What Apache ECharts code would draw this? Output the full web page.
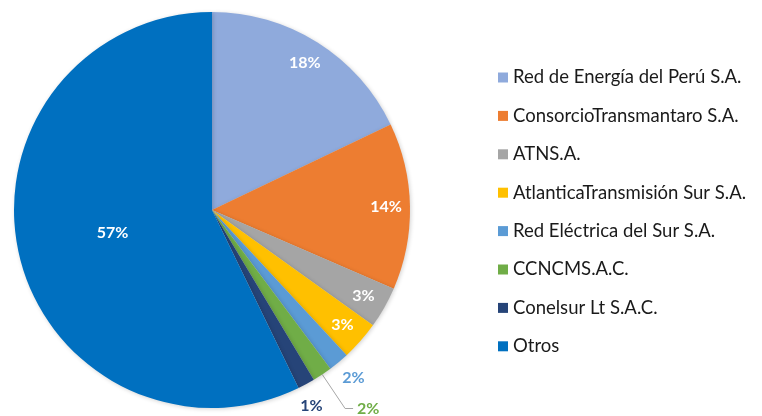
<!DOCTYPE html>
<html>
<head>
<meta charset="utf-8">
<script src="https://cdn.jsdelivr.net/npm/echarts@6/dist/echarts.min.js"></script>
<style>html,body{margin:0;padding:0;background:#fff}#c{width:762px;height:416px}</style>
</head>
<body>
<div id="c"></div>
<script>
const categories = ['Red de Energía del Perú S.A.', 'ConsorcioTransmantaro S.A.', 'ATNS.A.', 'AtlanticaTransmisión Sur S.A.', 'Red Eléctrica del Sur S.A.', 'CCNCMS.A.C.', 'Conelsur Lt S.A.C.', 'Otros'];
const shares = [17.9, 13.6, 3.4, 3.2, 1.7, 1.6, 1.4, 57.2];
const colors = ['#8faadc', '#ed7d31', '#a5a5a5', '#ffc000', '#5b9bd5', '#70ad47', '#264478', '#0070c0'];

// label placement style per slice: 'ring' = inner ring label, 'mid' = half radius, 'out' = outside
const labelKind = ['ring', 'ring', 'ring', 'ring', 'out', 'outLine', 'out', 'mid'];
const outDist = [0, 0, 0, 0, -10, 4, -18, 0];
const outLen = [0, 0, 0, 0, 21, 41, 25, 0];

const fontFam = 'Lato';
const fmt = p => Math.round(p.percent) + '%';

const mainData = categories.map((n, i) => {
  const k = labelKind[i];
  const d = { name: n, value: shares[i], itemStyle: { color: colors[i] } };
  if (k === 'mid') {
    d.label = { show: true, position: 'inside', color: '#fff' };
  } else if (k === 'out' || k === 'outLine') {
    d.label = { show: true, position: 'outside', color: colors[i], distanceToLabelLine: outDist[i] };
    d.labelLine = { show: k === 'outLine', length: outLen[i], length2: k === 'outLine' ? 8 : 0,
      lineStyle: { color: '#a6a6a6', width: 1 } };
  } else {
    d.label = { show: false };
  }
  return d;
});

const ringData = categories.map((n, i) => ({
  name: n, value: shares[i],
  itemStyle: { color: 'rgba(0,0,0,0)' },
  label: { show: labelKind[i] === 'ring' }
}));

const chart = echarts.init(document.getElementById('c'), null, { renderer: 'canvas' });
chart.setOption({
  animation: false,
  color: colors,
  legend: {
    orient: 'vertical',
    left: 493, top: 63,
    icon: 'rect',
    itemWidth: 10, itemHeight: 10,
    itemGap: 19.4,
    data: categories,
    textStyle: { fontFamily: fontFam, fontSize: 18.5, color: '#1a1a1a', lineHeight: 18 },
    selectedMode: false
  },
  series: [
    {
      type: 'pie',
      center: [212, 210],
      radius: [0, 198],
      startAngle: 90,
      clockwise: true,
      avoidLabelOverlap: false,
      legendHoverLink: false,
      label: { fontFamily: fontFam, fontSize: 16, fontWeight: 'bold', formatter: fmt },
      itemStyle: { shadowBlur: 4, shadowColor: 'rgba(0,0,0,0.18)', shadowOffsetX: 1, shadowOffsetY: 1 },
      emphasis: { disabled: true },
      data: mainData
    },
    {
      type: 'pie',
      center: [212, 210],
      radius: [144, 198],
      startAngle: 90,
      clockwise: true,
      silent: true,
      avoidLabelOverlap: false,
      legendHoverLink: false,
      label: { position: 'inside', fontFamily: fontFam, fontSize: 16, fontWeight: 'bold', color: '#fff', formatter: fmt },
      labelLine: { show: false },
      emphasis: { disabled: true },
      data: ringData
    }
  ]
});
</script>
</body>
</html>
